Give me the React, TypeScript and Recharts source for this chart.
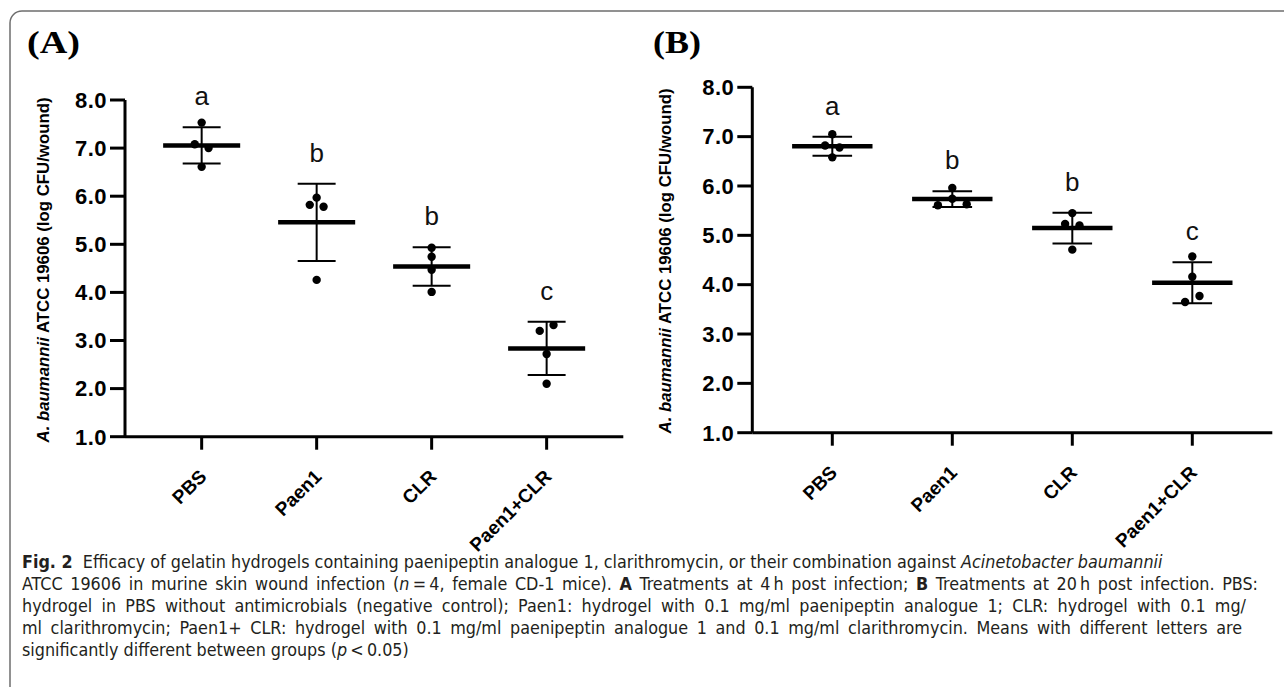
import React from 'react'
import { ComposedChart, Scatter, XAxis, YAxis, ErrorBar } from 'recharts'

const groups = ['PBS', 'Paen1', 'CLR', 'Paen1+CLR']
const yTicks = [1, 2, 3, 4, 5, 6, 7, 8]

// (A) treatment 4 h post infection, log CFU/wound, n = 4
const pbsA = [7.53, 7.08, 7.0, 6.61]
const paen1A = [5.97, 5.82, 5.78, 4.26]
const clrA = [4.93, 4.74, 4.47, 4.01]
const comboA = [3.2, 3.32, 2.72, 2.1]
const lettersA = ['a', 'b', 'b', 'c']

// (B) treatment 20 h post infection
const pbsB = [7.05, 6.82, 6.78, 6.58]
const paen1B = [5.96, 5.61, 5.74, 5.63]
const clrB = [5.45, 5.23, 5.2, 4.71]
const comboB = [4.57, 4.16, 3.65, 3.77]
const lettersB = ['a', 'b', 'b', 'c']

const sans = "'Liberation Sans', Arial, sans-serif"

// spread overlapping dots sideways, like a column scatter
function spread(values: number[], gap = 0.13, step = 0.12) {
  const order = values.map((_, i) => i).sort((a, b) => values[b] - values[a])
  const clusters: number[][] = []
  order.forEach((idx) => {
    const last = clusters[clusters.length - 1]
    if (last && values[last[last.length - 1]] - values[idx] < gap) last.push(idx)
    else clusters.push([idx])
  })
  const offsets = values.map(() => 0)
  clusters.forEach((c) => {
    const members = [...c].sort((a, b) => a - b)
    members.forEach((idx, k) => {
      offsets[idx] = (k - (members.length - 1) / 2) * step
    })
  })
  return offsets
}

function summary(values: number[]) {
  const mean = values.reduce((s, v) => s + v, 0) / values.length
  const sd = Math.sqrt(values.reduce((s, v) => s + (v - mean) ** 2, 0) / (values.length - 1))
  return { mean, sd }
}

function buildPanel(sets: number[][], letters: string[]) {
  const points = sets.flatMap((vals, g) => {
    const off = spread(vals)
    return vals.map((v, i) => ({ x: g + off[i], y: v }))
  })
  const means = sets.map((vals, g) => {
    const { mean, sd } = summary(vals)
    return { x: g, y: mean, sd }
  })
  const marks = sets.map((vals, g) => {
    const { mean, sd } = summary(vals)
    return { x: g, y: mean + sd, letter: letters[g] }
  })
  return { points, means, marks }
}

const XTick = ({ x, y, payload }: any) => {
  const tx = x + 6
  const ty = y + 26
  return (
    <text
      x={tx}
      y={ty}
      transform={`rotate(-45 ${tx} ${ty})`}
      textAnchor="end"
      fontSize={19}
      fontWeight="bold"
      fontFamily={sans}
      fill="#000"
    >
      {groups[payload.value]}
    </text>
  )
}

const YLabel = ({ labelX, labelY }: { labelX: number; labelY: number }) => (
  <text
    x={labelX}
    y={labelY}
    transform={`rotate(-90 ${labelX} ${labelY})`}
    textAnchor="middle"
    dominantBaseline="central"
    fontSize={16.8}
    fontWeight="bold"
    fontFamily={sans}
    fill="#000"
  >
    <tspan fontStyle="italic">A. baumannii</tspan> ATCC 19606 (log CFU/wound)
  </text>
)

interface PanelProps {
  sets: number[][]
  letters: string[]
  width: number
  height: number
  margin: { top: number; right: number; bottom: number; left: number }
  band: number
  labelX: number
  labelY: number
}

function Panel(props: PanelProps) {
  const { points, means, marks } = buildPanel(props.sets, props.letters)
  const barW = props.band * 0.67
  const capW = props.band * 0.165

  return (
    <ComposedChart width={props.width} height={props.height} margin={props.margin}>
      <XAxis
        type="number"
        dataKey="x"
        domain={[-2 / 3, 11 / 3]}
        ticks={[0, 1, 2, 3]}
        interval={0}
        height={80}
        tickSize={13}
        axisLine={{ stroke: '#000', strokeWidth: 3 }}
        tickLine={{ stroke: '#000', strokeWidth: 3 }}
        tick={<XTick />}
      />
      <YAxis
        type="number"
        dataKey="y"
        domain={[1, 8]}
        ticks={yTicks}
        interval={0}
        width={60}
        tickSize={15}
        tickMargin={3}
        tickFormatter={(v: number) => v.toFixed(1)}
        axisLine={{ stroke: '#000', strokeWidth: 3 }}
        tickLine={{ stroke: '#000', strokeWidth: 3 }}
        tick={{ fill: '#000', fontSize: 22, fontWeight: 'bold', fontFamily: sans, letterSpacing: 0.5 }}
        label={<YLabel labelX={props.labelX} labelY={props.labelY} />}
      />
      <Scatter
        data={means}
        isAnimationActive={false}
        shape={(p: any) => (
          <line x1={p.cx - barW / 2} x2={p.cx + barW / 2} y1={p.cy} y2={p.cy} stroke="#000" strokeWidth={4.5} />
        )}
      >
        <ErrorBar dataKey="sd" direction="y" width={capW} stroke="#000" strokeWidth={2} />
      </Scatter>
      <Scatter
        data={points}
        isAnimationActive={false}
        shape={(p: any) => <circle cx={p.cx} cy={p.cy} r={4.2} fill="#000" />}
      />
      <Scatter
        data={marks}
        isAnimationActive={false}
        shape={(p: any) => (
          <text x={p.cx} y={p.cy - 22} textAnchor="middle" fontSize={26} fontFamily={sans} fill="#111">
            {p.payload.letter}
          </text>
        )}
      />
    </ComposedChart>
  )
}

const captionStyle: React.CSSProperties = {
  position: 'absolute',
  left: 22,
  whiteSpace: 'nowrap',
  fontFamily: "'Liberation Sans Narrow', 'DejaVu Sans Condensed', sans-serif",
  fontStretch: 'condensed',
  fontSize: 17.8,
  lineHeight: '22px',
  color: '#231f20',
}

// justified caption lines stretch to the right margin
const justified = (width: number): React.CSSProperties => ({
  ...captionStyle,
  width,
  textAlign: 'justify',
  textAlignLast: 'justify',
})

export default function App() {
  return (
    <div
      style={{
        position: 'absolute',
        left: 0,
        top: 0,
        width: 1284,
        height: 687,
        overflow: 'hidden',
        background: '#fff',
        fontFamily: sans,
      }}
    >
      <svg width={1284} height={687} style={{ position: 'absolute', left: 0, top: 0 }}>
        <rect x={10} y={11} width={1300} height={700} rx={12} fill="none" stroke="#6e6e6e" strokeWidth={1.5} />
        <text x={27} y={53} fontFamily="'Liberation Serif', 'Times New Roman', serif" fontWeight="bold" fontSize={31} textLength={53} lengthAdjust="spacingAndGlyphs">
          (A)
        </text>
        <text x={653} y={53} fontFamily="'Liberation Serif', 'Times New Roman', serif" fontWeight="bold" fontSize={31} textLength={48} lengthAdjust="spacingAndGlyphs">
          (B)
        </text>
      </svg>

      <div style={{ position: 'absolute', left: 0, top: 0 }}>
        <Panel
          sets={[pbsA, paen1A, clrA, comboA]}
          letters={lettersA}
          width={640}
          height={560}
          margin={{ top: 100, right: 16.7, bottom: 43.3, left: 65 }}
          band={115}
          labelX={43}
          labelY={270}
        />
      </div>
      <div style={{ position: 'absolute', left: 640, top: 0 }}>
        <Panel
          sets={[pbsB, paen1B, clrB, comboB]}
          letters={lettersB}
          width={644}
          height={560}
          margin={{ top: 87.3, right: 11.7, bottom: 47.3, left: 52.3 }}
          band={120}
          labelX={25}
          labelY={261}
        />
      </div>

      <div style={{ ...captionStyle, top: 551 }}>
        <b>Fig. 2</b>&nbsp; Efficacy of gelatin hydrogels containing paenipeptin analogue 1, clarithromycin, or their combination against{' '}
        <i>Acinetobacter baumannii</i>
      </div>
      <div style={{ ...justified(1236), top: 573 }}>
        ATCC 19606 in murine skin wound infection (<i>n</i>&thinsp;=&thinsp;4, female CD-1 mice). <b>A</b> Treatments at 4&thinsp;h post
        infection; <b>B</b> Treatments at 20&thinsp;h post infection. PBS:
      </div>
      <div style={{ ...justified(1224), top: 595 }}>
        hydrogel in PBS without antimicrobials (negative control); Paen1: hydrogel with 0.1 mg/ml paenipeptin analogue 1; CLR: hydrogel with 0.1 mg/
      </div>
      <div style={{ ...justified(1220), top: 617 }}>
        ml clarithromycin; Paen1+ CLR: hydrogel with 0.1 mg/ml paenipeptin analogue 1 and 0.1 mg/ml clarithromycin. Means with different letters are
      </div>
      <div style={{ ...captionStyle, top: 639 }}>
        significantly different between groups (<i>p</i>&thinsp;&lt;&thinsp;0.05)
      </div>
    </div>
  )
}
